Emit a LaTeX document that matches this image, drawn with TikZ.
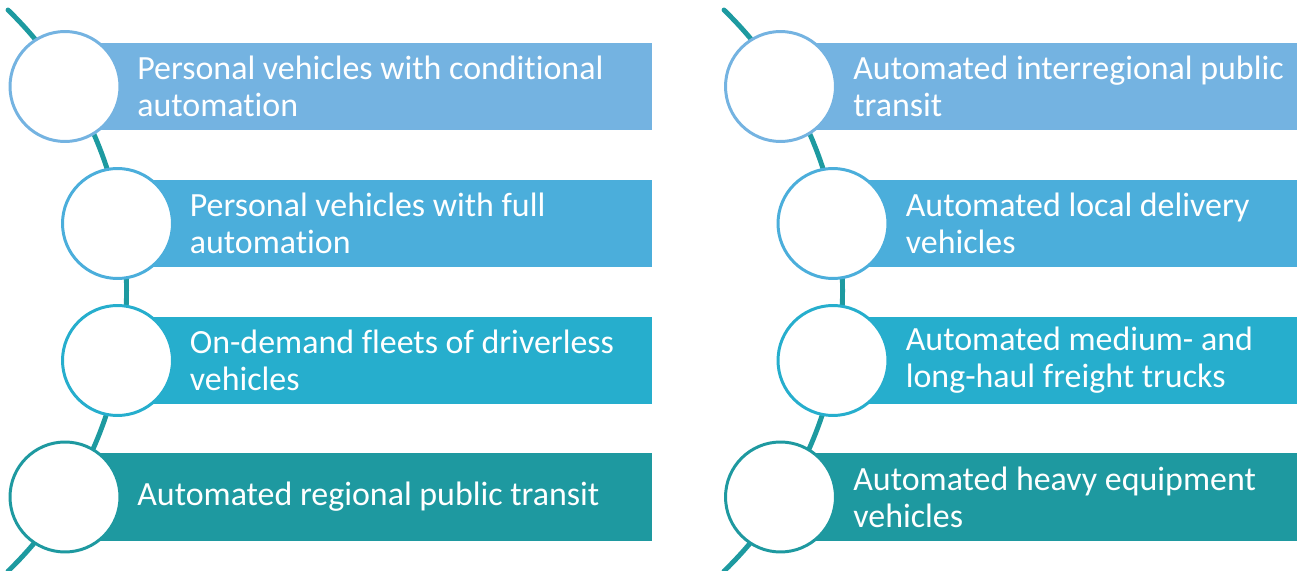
\documentclass[tikz,border=0pt]{standalone}
\usepackage{fontspec}
\setmainfont{Carlito}[Ligatures=CommonOff]
\usepackage{xcolor}
\definecolor{toneone}{RGB}{116,179,225}
\definecolor{tonetwo}{RGB}{75,174,219}
\definecolor{tonethree}{RGB}{38,174,205}
\definecolor{tonefour}{RGB}{30,153,160}
\definecolor{spineteal}{RGB}{29,154,160}

\begin{document}
\begin{tikzpicture}[x=0.02cm, y=0.02cm,
  bar/.style={anchor=west, minimum height=1.76cm, inner sep=0pt},
  ring/.style={circle, fill=white, line width=1.7pt, minimum size=2.2cm, inner sep=0pt},
  caption/.style={anchor=west, align=left, text=white, inner sep=0pt,
    font=\fontsize{19.3}{21}\selectfont},
  spine/.style={draw=spineteal, line width=2.8pt, line cap=round}]
  \useasboundingbox (0,0) rectangle (1299,-571);
  % Bogen hinter den Kreisen
  \coordinate (spineL) at (8,-10);
  \coordinate (spineR) at (724,-10);
  \draw[spine] (spineL) arc[start angle=45.8, end angle=-45.8, radius=7.83cm];
  \draw[spine] (spineR) arc[start angle=45.8, end angle=-45.8, radius=7.83cm];
  % linke Spalte
  \node[bar, fill=toneone, minimum width=11.74cm] (barA) at (65,-86.5) {};
  \node[bar, fill=tonetwo, minimum width=10.69cm] (barB) at (117.5,-223.5) {};
  \node[bar, fill=tonethree, minimum width=10.69cm] (barC) at (117.5,-360.5) {};
  \node[bar, fill=tonefour, minimum width=11.74cm] (barD) at (65,-497) {};
  \node[ring, draw=toneone] (ringA) at (65,-86.5) {};
  \node[ring, draw=tonetwo] (ringB) at (117.5,-223.5) {};
  \node[ring, draw=tonethree] (ringC) at (117.5,-360.5) {};
  \node[ring, draw=tonefour] (ringD) at (65,-497) {};
  \node[caption] (textA) at (137,-86.5) {Personal vehicles with conditional\\automation};
  \node[caption] (textB) at (189.5,-223.5) {Personal vehicles with full\\automation};
  \node[caption] (textC) at (189.5,-360.5) {On-demand fleets of driverless\\vehicles};
  \node[caption] (textD) at (137,-497) {Automated regional public transit};
  % rechte Spalte
  \node[bar, fill=toneone, minimum width=10.33cm] (barE) at (780.5,-86.5) {};
  \node[bar, fill=tonetwo, minimum width=9.28cm] (barF) at (833,-223.5) {};
  \node[bar, fill=tonethree, minimum width=9.28cm] (barG) at (833,-360.5) {};
  \node[bar, fill=tonefour, minimum width=10.33cm] (barH) at (780.5,-497) {};
  \node[ring, draw=toneone] (ringE) at (780.5,-86.5) {};
  \node[ring, draw=tonetwo] (ringF) at (833,-223.5) {};
  \node[ring, draw=tonethree] (ringG) at (833,-360.5) {};
  \node[ring, draw=tonefour] (ringH) at (780.5,-497) {};
  \node[caption] (textE) at (853,-86.5) {Automated interregional public\\transit};
  \node[caption] (textF) at (905.5,-223.5) {Automated local delivery\\vehicles};
  \node[caption] (textG) at (905.5,-360.5) {Automated medium- and\\long-haul freight trucks};
  \node[caption] (textH) at (853,-497) {Automated heavy equipment\\vehicles};
\end{tikzpicture}
\end{document}
